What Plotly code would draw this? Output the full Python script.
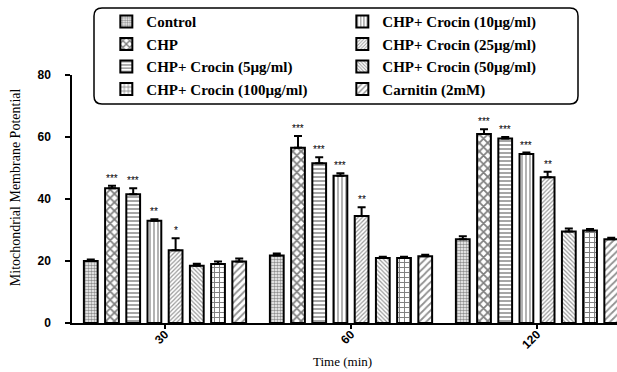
import plotly.graph_objects as go

times = ["30", "60", "120"]
series_names = [
    "Control", "CHP", "CHP+ Crocin (5µg/ml)", "CHP+ Crocin (10µg/ml)",
    "CHP+ Crocin (25µg/ml)", "CHP+ Crocin (50µg/ml)", "CHP+ Crocin (100µg/ml)",
    "Carnitin (2mM)",
]
control = [20.0, 21.8, 27.0]
chp = [43.5, 56.5, 61.0]
crocin5 = [41.5, 51.5, 59.5]
crocin10 = [33.0, 47.5, 54.5]
crocin25 = [23.5, 34.5, 47.0]
crocin50 = [18.5, 21.0, 29.5]
crocin100 = [19.0, 21.0, 29.8]
carnitin = [19.8, 21.5, 27.0]

err_control = [0.5, 0.6, 1.0]
err_chp = [0.8, 3.8, 1.5]
err_crocin5 = [2.0, 2.0, 0.5]
err_crocin10 = [0.5, 0.8, 0.5]
err_crocin25 = [3.8, 2.8, 1.8]
err_crocin50 = [0.6, 0.4, 1.0]
err_crocin100 = [0.8, 0.4, 0.5]
err_carnitin = [1.0, 0.5, 0.5]

sig_control = ["", "", ""]
sig_chp = ["***", "***", "***"]
sig_crocin5 = ["***", "***", "***"]
sig_crocin10 = ["**", "***", "***"]
sig_crocin25 = ["*", "**", "**"]
sig_crocin50 = ["", "", ""]
sig_crocin100 = ["", "", ""]
sig_carnitin = ["", "", ""]

values = [control, chp, crocin5, crocin10, crocin25, crocin50, crocin100, carnitin]
errors = [err_control, err_chp, err_crocin5, err_crocin10, err_crocin25,
          err_crocin50, err_crocin100, err_carnitin]
sigs = [sig_control, sig_chp, sig_crocin5, sig_crocin10, sig_crocin25,
        sig_crocin50, sig_crocin100, sig_carnitin]

patterns = [
    dict(shape=".", size=3, solidity=0.55, fgcolor="#222", bgcolor="white"),
    dict(shape="x", size=6, solidity=0.5, fgcolor="black", bgcolor="white"),
    dict(shape="-", size=4, solidity=0.35, fgcolor="black", bgcolor="white"),
    dict(shape="|", size=4, solidity=0.3, fgcolor="black", bgcolor="white"),
    dict(shape="/", size=3, solidity=0.4, fgcolor="#333", bgcolor="white"),
    dict(shape="\\", size=3, solidity=0.4, fgcolor="#333", bgcolor="white"),
    dict(shape="+", size=5, solidity=0.35, fgcolor="black", bgcolor="white"),
    dict(shape="/", size=5, solidity=0.35, fgcolor="#222", bgcolor="white"),
]
# row-major legend order: two columns
legend_ranks = [1, 3, 5, 2, 4, 6, 7, 8]

BARGAP = 0.088
fig = go.Figure()
for i, name in enumerate(series_names):
    fig.add_trace(go.Bar(
        x=times, y=values[i], name=name,
        marker=dict(color="white", line=dict(color="black", width=2), pattern=patterns[i]),
        error_y=dict(type="data", array=errors[i], arrayminus=[0] * 3, symmetric=False,
                     color="black", thickness=2, width=4),
        legendrank=legend_ranks[i],
    ))

n = len(series_names)
slot = (1 - BARGAP) / n
for i in range(n):
    for g in range(len(times)):
        if sigs[i][g]:
            fig.add_annotation(
                x=g + (i - (n - 1) / 2) * slot, y=values[i][g] + errors[i][g],
                text=sigs[i][g], showarrow=False, yanchor="bottom", yshift=0,
                font=dict(family="Liberation Sans", size=10, color="black"),
            )

# axis titles
fig.add_annotation(x=(342 - 72) / 545, y=(322.7 - 361) / 247.7, xref="paper", yref="paper",
                   text="Time (min)", showarrow=False, xanchor="center", yanchor="middle",
                   font=dict(family="Liberation Serif", size=13, color="black"))
fig.add_annotation(x=(15 - 72) / 545, y=(322.7 - 187) / 247.7, xref="paper", yref="paper",
                   text="Mitochondrial Membrane Potential", textangle=-90, showarrow=False,
                   xanchor="center", yanchor="middle",
                   font=dict(family="Liberation Serif", size=14, color="black"))

# rounded legend box
x0, x1 = (94 - 72) / 545, (578 - 72) / 545
y1, y0 = (322.7 - 8) / 247.7, (322.7 - 104) / 247.7
rx, ry = 8 / 545, 8 / 247.7
path = (f"M {x0+rx},{y1} L {x1-rx},{y1} Q {x1},{y1} {x1},{y1-ry} "
        f"L {x1},{y0+ry} Q {x1},{y0} {x1-rx},{y0} L {x0+rx},{y0} "
        f"Q {x0},{y0} {x0},{y0+ry} L {x0},{y1-ry} Q {x0},{y1} {x0+rx},{y1} Z")
fig.add_shape(type="path", path=path, xref="paper", yref="paper",
              line=dict(color="black", width=1.5), fillcolor="rgba(0,0,0,0)")

fig.update_layout(
    width=617, height=372,
    margin=dict(l=72, r=0, t=75, b=49),
    paper_bgcolor="white", plot_bgcolor="white",
    barmode="group", bargap=BARGAP, bargroupgap=0.35,
    showlegend=True,
    legend=dict(
        orientation="h", x=0.063, y=1.281, xanchor="left", yanchor="top",
        entrywidth=191, entrywidthmode="pixels",
        font=dict(family="Liberation Serif", size=15, color="black", weight="bold"),
        bgcolor="rgba(0,0,0,0)", borderwidth=0, tracegroupgap=0,
    ),
    xaxis=dict(
        type="category", range=[-0.5, 2.43],
        showline=True, linecolor="black", linewidth=1.5,
        ticks="outside", ticklen=4, tickwidth=1.5, tickcolor="black",
        tickangle=-45, ticklabelstandoff=-6,
        tickfont=dict(family="Liberation Sans", size=12, color="black", weight="bold"),
        showgrid=False, zeroline=False,
    ),
    yaxis=dict(
        range=[0, 80], tickvals=[0, 20, 40, 60, 80],
        showline=True, linecolor="black", linewidth=1.5,
        ticks="outside", ticklen=5, tickwidth=1.5, tickcolor="black",
        ticklabelstandoff=12,
        tickfont=dict(family="Liberation Sans", size=12, color="black", weight="bold"),
        showgrid=False, zeroline=False,
    ),
)

fig.write_html("out.html", config={"displayModeBar": False},
               post_script="document.body.style.margin='0';")
